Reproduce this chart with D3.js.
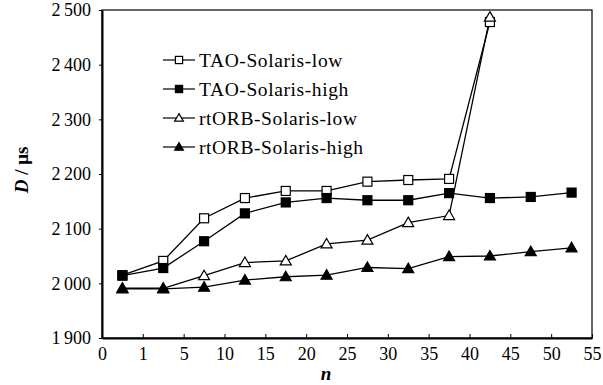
<!DOCTYPE html>
<html>
<head>
<meta charset="utf-8">
<script src="https://cdn.jsdelivr.net/npm/d3@7"></script>
<style>
  body { margin: 0; background: #fff; }
  svg { display: block; }
  svg text { font-family: "Liberation Serif", "Times New Roman", serif; }
</style>
</head>
<body>
<svg id="chart" width="603" height="385"></svg>
<script>
// category axis labels (Excel style: ticks between categories)
const xLabels = ['0', '1', '5', '10', '15', '20', '25', '30', '35', '40', '45', '50', '55']
const yTicks = [1900, 2000, 2100, 2200, 2300, 2400, 2500]

// values sit halfway between the tick labels
const taoLow = [2015, 2041, 2119, 2156, 2169, 2169, 2186, 2189, 2191, 2478]
const taoHigh = [2014, 2028, 2077, 2128, 2148, 2156, 2152, 2152, 2165, 2156, 2158, 2166]
const rtorbLow = [1991, 1991, 2014, 2038, 2041, 2072, 2079, 2111, 2124, 2487]
const rtorbHigh = [1990, 1990, 1993, 2006, 2012, 2015, 2029, 2027, 2049, 2050, 2058, 2065]

const series = [
    { name: 'TAO-Solaris-low', values: taoLow, shape: 'square', fill: '#fff' },
    { name: 'TAO-Solaris-high', values: taoHigh, shape: 'square', fill: '#000' },
    { name: 'rtORB-Solaris-low', values: rtorbLow, shape: 'triangle', fill: '#fff' },
    { name: 'rtORB-Solaris-high', values: rtorbHigh, shape: 'triangle', fill: '#000' },
]

const margin = { top: 10, right: 11, bottom: 47, left: 102 }
const width = 603 - margin.left - margin.right
const height = 385 - margin.top - margin.bottom

const svg = d3.select('#chart')
const g = svg.append('g').attr('transform', `translate(${margin.left},${margin.top})`)

const x = d3.scaleLinear().domain([0, xLabels.length - 1]).range([0, width])
const y = d3.scaleLinear().domain([1900, 2500]).range([height, 0])

const fmt = (d) => d3.format(',')(d).replace(',', '\u2009')

// frame
g.append('rect')
    .attr('width', width)
    .attr('height', height)
    .attr('fill', 'none')
    .attr('stroke', '#000')
    .attr('stroke-width', 1.2)

// x axis, ticks pointing inward
const xAxis = g.append('g')
    .attr('transform', `translate(0,${height})`)
    .call(d3.axisBottom(x)
        .tickValues(d3.range(xLabels.length))
        .tickFormat((i) => xLabels[i])
        .tickSizeInner(-4)
        .tickSizeOuter(0)
        .tickPadding(9))
xAxis.attr('font-size', 18)
xAxis.select('.domain').attr('stroke-width', 2)
xAxis.selectAll('text').attr('fill', '#000')

// y axis
const yAxis = g.append('g')
    .call(d3.axisLeft(y)
        .tickValues(yTicks)
        .tickFormat(fmt)
        .tickSizeInner(3)
        .tickSizeOuter(0)
        .tickPadding(8))
yAxis.attr('font-size', 18)
yAxis.select('.domain').attr('stroke-width', 2)
yAxis.selectAll('text').attr('fill', '#000')

// axis titles
svg.append('text')
    .attr('transform', 'translate(28,170) rotate(-90)')
    .attr('text-anchor', 'middle')
    .attr('font-size', 19)
    .attr('font-weight', 'bold')
    .html('<tspan font-style="italic">D</tspan> / μs')

svg.append('text')
    .attr('x', 326)
    .attr('y', 380)
    .attr('text-anchor', 'middle')
    .attr('font-size', 19)
    .attr('font-weight', 'bold')
    .attr('font-style', 'italic')
    .text('n')

const line = d3.line()
    .x((d, i) => x(i + 0.5))
    .y((d) => y(d))

const drawMarker = (sel, s, k) => {
    const r = k || 1
    if (s.shape === 'square') {
        sel.append('rect')
            .attr('x', -4.5 * r).attr('y', -4.5 * r)
            .attr('width', 9 * r).attr('height', 9 * r)
            .attr('fill', s.fill)
            .attr('stroke', '#000')
            .attr('stroke-width', 1.2)
    } else {
        sel.append('path')
            .attr('d', `M0,${-5.5 * r}L${5.5 * r},${4 * r}L${-5.5 * r},${4 * r}Z`)
            .attr('fill', s.fill)
            .attr('stroke', '#000')
            .attr('stroke-width', 1.2)
    }
}

// lines first, then markers (filled ones on top where they overlap)
;[0, 2, 1, 3].forEach((k) => {
    const s = series[k]
    g.append('path')
        .datum(s.values)
        .attr('d', line)
        .attr('fill', 'none')
        .attr('stroke', '#000')
        .attr('stroke-width', 1.3)
})
;[0, 2, 1, 3].forEach((k) => {
    const s = series[k]
    g.selectAll(null)
        .data(s.values)
        .enter()
        .append('g')
        .attr('transform', (d, i) => `translate(${x(i + 0.5)},${y(d)})`)
        .each(function () { drawMarker(d3.select(this), s) })
})

// legend
const legend = svg.append('g').attr('transform', 'translate(163,60)')
series.forEach((s, i) => {
    const row = legend.append('g').attr('transform', `translate(0,${i * 29})`)
    row.append('line')
        .attr('x1', 0).attr('x2', 32)
        .attr('stroke', '#000')
        .attr('stroke-width', 1.2)
    drawMarker(row.append('g').attr('transform', 'translate(16,0)'), s, 0.8)
    row.append('text')
        .attr('x', 36)
        .attr('y', 6.5)
        .attr('font-size', 19.5)
        .attr('letter-spacing', 0.6)
        .text(s.name)
})
</script>
</body>
</html>
